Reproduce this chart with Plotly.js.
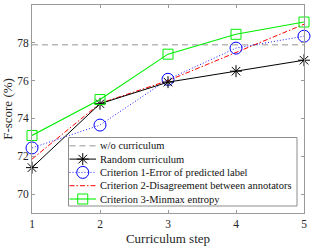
<!DOCTYPE html>
<html>
<head>
<meta charset="utf-8">
<script src="https://cdn.plot.ly/plotly-3.0.1.min.js"></script>
<style>html,body{margin:0;padding:0;background:#fff;}#chart{width:311px;height:248px;}</style>
</head>
<body>
<div id="chart"></div>
<script>
// ---- data ----
const steps = [1, 2, 3, 4, 5];
const woCurriculum = [77.9, 77.9, 77.9, 77.9, 77.9];
const randomCurriculum = [71.4, 74.78, 75.92, 76.5, 77.08];
const criterion1 = [72.44, 73.65, 76.07, 77.72, 78.35];
const criterion2 = [71.85, 74.8, 76.0, 77.5, 78.98];
const criterion3 = [73.1, 75.0, 77.4, 78.45, 79.1];
const seriesNames = [
  'w/o curriculum',
  'Random curriculum',
  'Criterion 1-Error of predicted label',
  'Criterion 2-Disagreement between annotators',
  'Criterion 3-Minmax entropy'
];
const yTicks = [70, 72, 74, 76, 78, 80];

// ---- styles ----
const FONT = 'Liberation Serif';
const styles = [
  {line: {color: '#b8b8b8', width: 1.5, dash: '6px,4px'}, mode: 'lines'},
  {line: {color: '#000000', width: 1}, mode: 'lines+markers',
   marker: {symbol: 'asterisk-open', size: 10, color: '#000', line: {color: '#000', width: 1}}},
  {line: {color: '#1f1fff', width: 1, dash: '1px,2px'}, mode: 'lines+markers',
   marker: {symbol: 'circle-open', size: 12, color: '#0000ff', line: {color: '#0000ff', width: 1}}},
  {line: {color: '#ff0000', width: 1, dash: '5px,2px,1.5px,2px'}, mode: 'lines'},
  {line: {color: '#00ee00', width: 1.1}, mode: 'lines+markers',
   marker: {symbol: 'square-open', size: 10, color: '#00ee00', line: {color: '#00ee00', width: 1}}}
];
const seriesValues = [woCurriculum, randomCurriculum, criterion1, criterion2, criterion3];
const drawOrder = [0, 3, 2, 1, 4];

const traces = [];
drawOrder.forEach(i => {
  traces.push(Object.assign({
    type: 'scatter', x: steps, y: seriesValues[i], name: seriesNames[i],
    showlegend: false, xaxis: 'x', yaxis: 'y', cliponaxis: false
  }, styles[i]));
});

// ---- hand-drawn legend (overlay axes in pixel units) ----
const L = {x0: 68.5, x1: 297, y0: 137.5, y1: 206, sx0: 69.5, sx1: 96, tx: 98, ty0: 145.8, dy: 13.3};
traces.push({
  type: 'scatter', xaxis: 'x2', yaxis: 'y2', showlegend: false, hoverinfo: 'skip',
  x: [L.x0, L.x1, L.x1, L.x0, L.x0], y: [L.y0, L.y0, L.y1, L.y1, L.y0],
  mode: 'lines', fill: 'toself', fillcolor: '#ffffff', line: {color: '#8c8c8c', width: 1}
});
const annotations = [];
seriesNames.forEach((name, i) => {
  const yy = L.ty0 + i * L.dy;
  const st = styles[i];
  traces.push({type: 'scatter', xaxis: 'x2', yaxis: 'y2', showlegend: false, hoverinfo: 'skip',
    x: [L.sx0, L.sx1], y: [yy, yy], mode: 'lines', line: st.line});
  if (st.marker) {
    traces.push({type: 'scatter', xaxis: 'x2', yaxis: 'y2', showlegend: false, hoverinfo: 'skip',
      x: [(L.sx0 + L.sx1) / 2], y: [yy], mode: 'markers', marker: st.marker});
  }
  annotations.push({xref: 'x2', yref: 'y2', x: L.tx, y: yy, text: name, showarrow: false,
    xanchor: 'left', yanchor: 'middle',
    font: {family: FONT, size: 10.5, color: '#111'}});
});

const axisCommon = {
  showline: true, linecolor: '#9a9a9a', linewidth: 1, mirror: 'ticks',
  ticks: 'inside', ticklen: 3, tickcolor: '#9a9a9a', tickwidth: 1,
  showgrid: false, zeroline: false,
  tickfont: {family: FONT, size: 11.5, color: '#262626'}
};

const layout = {
  width: 311, height: 248,
  margin: {l: 32, r: 7, t: 5, b: 35},
  paper_bgcolor: '#fff', plot_bgcolor: '#fff',
  showlegend: false,
  font: {family: FONT},
  xaxis: Object.assign({}, axisCommon, {
    range: [1, 5], tickvals: steps, ticktext: steps.map(String),
    title: {text: 'Curriculum step', standoff: 5,
      font: {family: FONT, size: 13, color: '#262626'}}
  }),
  yaxis: Object.assign({}, axisCommon, {
    range: [69, 80], tickvals: yTicks, ticktext: yTicks.map(String),
    title: {text: 'F-score (%)', standoff: 6,
      font: {family: FONT, size: 13, color: '#262626'}}
  }),
  xaxis2: {overlaying: 'x', range: [32, 304], visible: false, fixedrange: true},
  yaxis2: {overlaying: 'y', range: [213, 5], visible: false, fixedrange: true},
  annotations: annotations
};

Plotly.newPlot('chart', traces, layout, {displayModeBar: false, staticPlot: true});
</script>
</body>
</html>
